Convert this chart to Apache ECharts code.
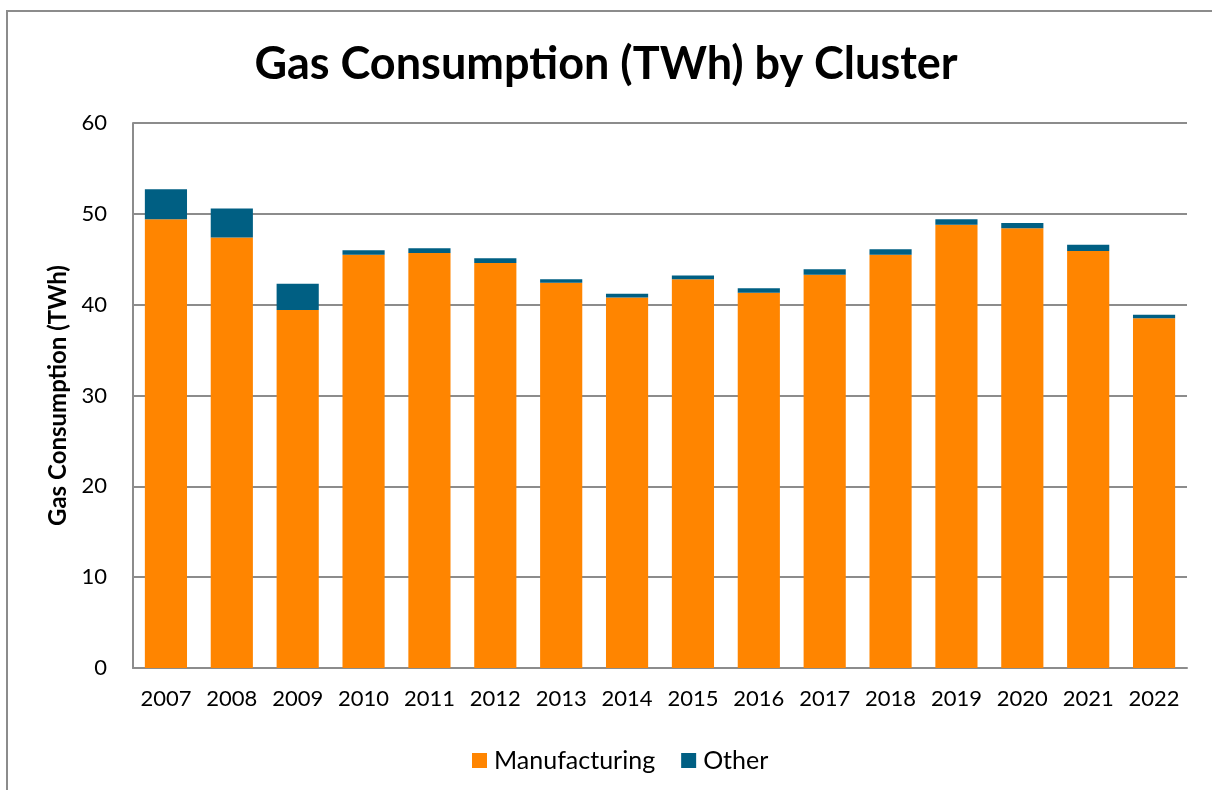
<!DOCTYPE html>
<html>
<head>
<meta charset="utf-8">
<script src="https://cdn.jsdelivr.net/npm/echarts@6/dist/echarts.min.js"></script>
<style>
  html, body { margin: 0; padding: 0; background: #fff; }
  #main { width: 1212px; height: 790px; }
</style>
</head>
<body>
<div id="main"></div>
<script>
// data
const years = ['2007', '2008', '2009', '2010', '2011', '2012', '2013', '2014',
  '2015', '2016', '2017', '2018', '2019', '2020', '2021', '2022']
const manufacturing = [49.4, 47.4, 39.4, 45.5, 45.7, 44.6, 42.4, 40.8,
  42.8, 41.3, 43.3, 45.5, 48.8, 48.4, 45.9, 38.5]
const other = [3.3, 3.2, 2.9, 0.5, 0.5, 0.5, 0.4, 0.4,
  0.4, 0.5, 0.6, 0.6, 0.6, 0.6, 0.7, 0.4]

const font = 'Lato, "Open Sans", sans-serif'

let chart = echarts.init(document.getElementById('main'))
chart.setOption({
  animation: false,
  textStyle: { fontFamily: font },
  title: {
    text: 'Gas Consumption (TWh) by Cluster',
    left: 'center',
    top: 37,
    textStyle: { fontSize: 45, fontWeight: 'bold', color: '#000', fontFamily: font }
  },
  legend: {
    bottom: 12,
    left: 467,
    itemWidth: 15,
    itemHeight: 15,
    itemGap: 26,
    icon: 'rect',
    textStyle: { fontSize: 25, color: '#000', fontFamily: font, padding: [0, 0, 0, 2] },
    data: ['Manufacturing', 'Other']
  },
  graphic: [{
    type: 'rect',
    shape: { x: 7, y: 11, width: 1300, height: 900 },
    style: { fill: 'none', stroke: '#8c8c8c', lineWidth: 2 },
    silent: true
  }],
  grid: { left: 133, right: 25, top: 123, bottom: 122 },
  xAxis: {
    type: 'category',
    data: years,
    axisLine: { lineStyle: { color: '#8c8c8c', width: 2 } },
    axisTick: { show: false },
    axisLabel: { interval: 0, fontSize: 22, color: '#000', margin: 20, fontFamily: font }
  },
  yAxis: {
    type: 'value',
    min: 0,
    max: 60,
    interval: 10,
    name: 'Gas Consumption (TWh)',
    nameLocation: 'middle',
    nameGap: 62,
    nameTextStyle: { fontSize: 24, fontWeight: 'bold', color: '#000', fontFamily: font },
    axisLine: { show: true, lineStyle: { color: '#8c8c8c', width: 2 } },
    axisTick: { show: false },
    axisLabel: { fontSize: 22, color: '#000', margin: 26, fontFamily: font },
    splitLine: { lineStyle: { color: '#8c8c8c', width: 2 } }
  },
  series: [
    {
      name: 'Manufacturing',
      type: 'bar',
      stack: 'total',
      barCategoryGap: '36%',
      itemStyle: { color: '#ff8500' },
      data: manufacturing
    },
    {
      name: 'Other',
      type: 'bar',
      stack: 'total',
      itemStyle: { color: '#005f83' },
      data: other
    }
  ]
})
</script>
</body>
</html>
